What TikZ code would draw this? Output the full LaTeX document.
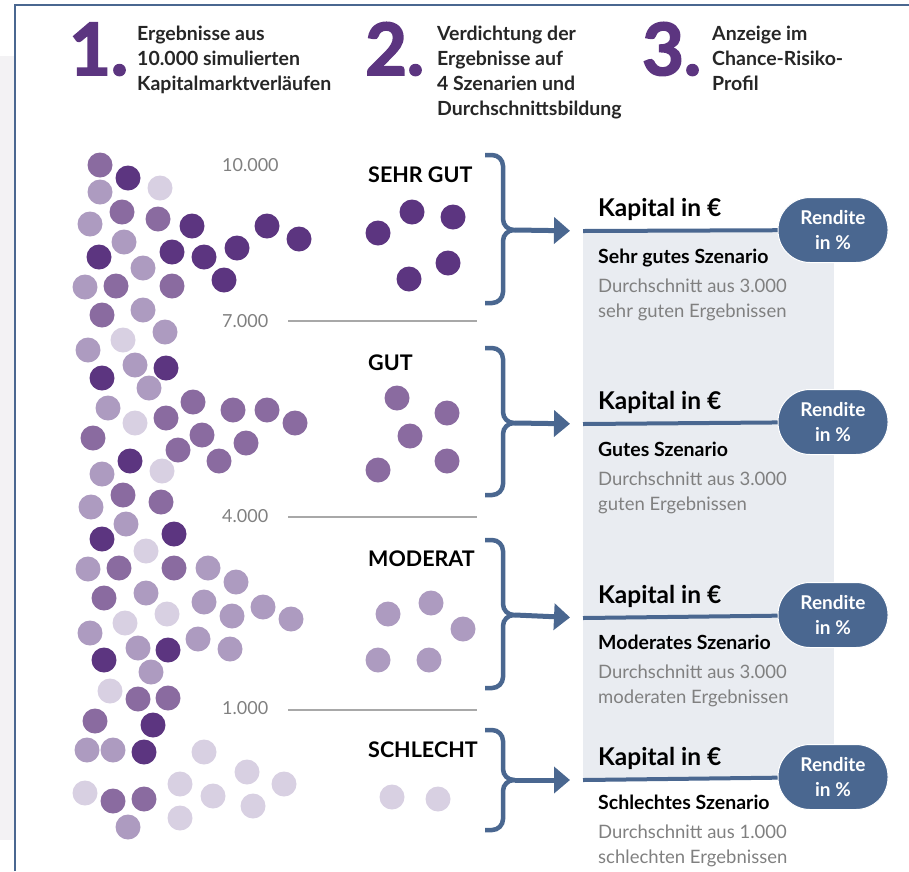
\documentclass[tikz,border=0pt]{standalone}
\usepackage{fontspec}
\setmainfont{Lato}
\newfontfamily\numfont{Lato}[BoldFeatures={FakeBold=2.5}]
\usetikzlibrary{positioning,arrows.meta}

\definecolor{frameblue}{HTML}{4A6790}
\definecolor{pdark}{HTML}{5C3580}
\definecolor{pmid}{HTML}{8A6BA0}
\definecolor{plight}{HTML}{AD9BC0}
\definecolor{pvlight}{HTML}{D8D0E2}
\definecolor{panelgray}{HTML}{E9ECF1}
\definecolor{stripgray}{HTML}{F3F2F4}
\definecolor{txtgray}{HTML}{808080}
\definecolor{rulegray}{HTML}{A8A8A8}

\begin{document}
\begin{tikzpicture}[x=1pt, y=-1pt,
    num/.style={font=\fontsize{72}{72}\numfont\bfseries, text=pdark, anchor=base west, inner sep=0pt},
    hdr/.style={font=\fontsize{19.5}{25}\selectfont\bfseries, text=black!85, align=left, anchor=north west, inner sep=0pt},
    ylab/.style={font=\fontsize{18}{20}\selectfont, text=txtgray, anchor=base west, inner sep=0pt},
    sep/.style={rulegray, line width=1.5pt},
    dot/.style={fill=#1, radius=12.5pt},
    scen/.style={font=\fontsize{21.5}{22}\selectfont\bfseries, anchor=base west, inner sep=0pt},
    brc/.style={frameblue, line width=4.5pt, rounded corners=11pt},
    arr/.style={frameblue, line width=5pt, -{Triangle[length=16pt,width=26pt]}, shorten >=13pt},
    bar/.style={frameblue, line width=4pt},
    kap/.style={font=\fontsize{24.5}{26}\selectfont\bfseries, anchor=base west, inner sep=0pt},
    sname/.style={font=\fontsize{19.5}{22}\selectfont\bfseries, anchor=base west, inner sep=0pt},
    desc/.style={font=\fontsize{18.5}{25}\selectfont, text=txtgray, align=left, anchor=north west, inner sep=0pt},
    pill/.style={fill=frameblue, draw=white, line width=1pt, rounded corners=32pt, minimum width=110pt, minimum height=65pt,
        text=white, align=center, font=\fontsize{19}{25}\selectfont\bfseries, inner sep=0pt}
]
    \useasboundingbox (0,0) rectangle (909,871);

    % frame
    \fill[stripgray] (0,56) rectangle (13.75,840);
    \draw[frameblue, line width=2.5pt] (15,871) -- (15,5) -- (909,5);
    \fill[panelgray] (583,231) rectangle (834,780);

    % header
    \node[num] (n1) at (69,75) {1.};
    \node[hdr] (h1) at (137,26) {Ergebnisse aus\\10.000 simulierten\\Kapitalmarktverläufen};
    \node[num] (n2) at (365,75) {2.};
    \node[hdr] (h2) at (437,26) {Verdichtung der\\Ergebnisse auf\\4 Szenarien und\\Durchschnittsbildung};
    \node[num] (n3) at (642,75) {3.};
    \node[hdr] (h3) at (712,26) {Anzeige im\\Chance-Risiko-\\Profil};

    % scale of the simulations
    \node[ylab] (y10) at (222,171) {10.000};
    \node[ylab] (y7) at (222,327) {7.000};
    \node[ylab] (y4) at (222,522) {4.000};
    \node[ylab] (y1) at (222,714) {1.000};
    \draw[sep] (288,321) -- (477,321);
    \draw[sep] (288,517) -- (477,517);
    \draw[sep] (288,710) -- (477,710);

    % 10.000 results
    \foreach \x/\y in {128/178, 192/226, 267/226, 299/239, 99/257, 172/252, 204/257, 237/248, 224/280,
        166/368, 102/378, 130/461, 102/539, 174/534, 168/650, 104/660, 153/725, 144/752}
        \fill[dot=pdark] (\x,\y) circle;
    \foreach \x/\y in {100/165, 122/212, 158/219, 116/286, 172/286, 102/315, 193/402, 166/418, 233/410,
        267/410, 295/423, 93/438, 202/435, 178/450, 246/443, 219/461, 123/495, 161/502, 119/568,
        174/568, 104/598, 138/699, 168/698, 95/721, 113/801, 144/799}
        \fill[dot=pmid] (\x,\y) circle;
    \foreach \x/\y in {100/192, 90/224, 124/242, 143/268, 85/287, 143/310, 165/332, 88/350, 135/365,
        149/388, 108/408, 102/474, 91/507, 126/524, 88/569, 208/568, 236/582, 146/593, 204/602,
        232/616, 263/607, 291/619, 90/633, 198/639, 138/648, 230/649, 151/672, 87/750, 113/750, 128/827}
        \fill[dot=plight] (\x,\y) circle;
    \foreach \x/\y in {160/188, 123/340, 135/423, 162/471, 146/551, 167/614, 125/623, 110/691, 204/752,
        247/772, 284/784, 180/784, 85/793, 213/796, 253/806, 180/818}
        \fill[dot=pvlight] (\x,\y) circle;

    % 4 scenarios
    \node[scen] (sgut) at (368,182) {SEHR GUT};
    \node[scen] (gut) at (368,370) {GUT};
    \node[scen] (mod) at (368,566) {MODERAT};
    \node[scen] (schl) at (368,757) {SCHLECHT};
    \foreach \x/\y in {378/233, 412/212, 453/217, 448/263, 409/279}
        \fill[dot=pdark] (\x,\y) circle;
    \foreach \x/\y in {397/398, 447/413, 410/436, 447/461, 378/470}
        \fill[dot=pmid] (\x,\y) circle;
    \foreach \x/\y in {388/614, 431/603, 463/629, 378/660, 429/660}
        \fill[dot=plight] (\x,\y) circle;
    \foreach \x/\y in {392/797, 438/799}
        \fill[dot=pvlight] (\x,\y) circle;

    \coordinate (sgtip) at (515,230);
    \coordinate (guttip) at (515,423);
    \coordinate (modtip) at (515,615);
    \coordinate (schltip) at (515,780);
    \draw[brc] (485,155) -| (503,230) -- (sgtip);
    \draw[brc] (485,303) -| (503,230) -- (sgtip);
    \draw[brc] (485,348) -| (503,423) -- (guttip);
    \draw[brc] (485,495) -| (503,423) -- (guttip);
    \draw[brc] (485,540) -| (503,615) -- (modtip);
    \draw[brc] (485,688) -| (503,615) -- (modtip);
    \draw[brc] (485,730) -| (503,780) -- (schltip);
    \draw[brc] (485,830) -| (503,780) -- (schltip);

    % chance-risk profile
    \coordinate (sgbar) at (583,231);
    \coordinate (gutbar) at (583,424);
    \coordinate (modbar) at (583,618);
    \coordinate (schlbar) at (583,780);
    \node[pill] (sgpill) at (833,230) {Rendite\\in \%};
    \node[pill] (gutpill) at (833,422) {Rendite\\in \%};
    \node[pill] (modpill) at (833,615) {Rendite\\in \%};
    \node[pill] (schlpill) at (833,777) {Rendite\\in \%};
    \draw[arr] (sgtip) -- (sgbar);
    \draw[arr] (guttip) -- (gutbar);
    \draw[arr] (modtip) -- (modbar);
    \draw[arr] (schltip) -- (schlbar);
    \draw[bar] (sgbar) -- (sgpill);
    \draw[bar] (gutbar) -- (gutpill);
    \draw[bar] (modbar) -- (modpill);
    \draw[bar] (schlbar) -- (schlpill);

    \node[kap] (sgkap) at (598,216) {Kapital in €};
    \node[sname] (sgname) at (598,263) {Sehr gutes Szenario};
    \node[desc] (sgdesc) at (598,279) {Durchschnitt aus 3.000\\sehr guten Ergebnissen};

    \node[kap] (gutkap) at (598,409) {Kapital in €};
    \node[sname] (gutname) at (598,456) {Gutes Szenario};
    \node[desc] (gutdesc) at (598,472) {Durchschnitt aus 3.000\\guten Ergebnissen};

    \node[kap] (modkap) at (598,603) {Kapital in €};
    \node[sname] (modname) at (598,649) {Moderates Szenario};
    \node[desc] (moddesc) at (598,665) {Durchschnitt aus 3.000\\moderaten Ergebnissen};

    \node[kap] (schlkap) at (598,765) {Kapital in €};
    \node[sname] (schlname) at (598,809) {Schlechtes Szenario};
    \node[desc] (schldesc) at (598,825) {Durchschnitt aus 1.000\\schlechten Ergebnissen};
\end{tikzpicture}
\end{document}
